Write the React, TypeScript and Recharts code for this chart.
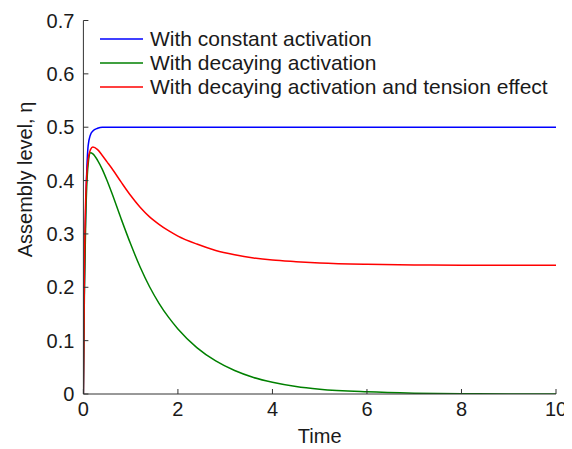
import React from 'react';
import { LineChart, Line, XAxis, YAxis, Legend, Label } from 'recharts';

// Sample times and the three simulated assembly curves
const time = [0, 0.02, 0.05, 0.1, 0.15, 0.2, 0.3, 0.4, 0.5, 0.6, 0.8, 1.0, 1.2, 1.4, 1.6, 1.8, 2.0, 2.4, 2.8, 3.2, 3.6, 4.0, 4.5, 5, 6, 7, 8, 9, 10];
const constantActivation = [0, 0.2, 0.35, 0.465, 0.486, 0.493, 0.498, 0.5, 0.5, 0.5, 0.5, 0.5, 0.5, 0.5, 0.5, 0.5, 0.5, 0.5, 0.5, 0.5, 0.5, 0.5, 0.5, 0.5, 0.5, 0.5, 0.5, 0.5, 0.5];
const decayingActivation = [0, 0.18, 0.33, 0.43, 0.452, 0.45, 0.438, 0.421, 0.4, 0.377, 0.328, 0.281, 0.238, 0.201, 0.17, 0.144, 0.122, 0.087, 0.062, 0.044, 0.031, 0.022, 0.014, 0.009, 0.004, 0.0015, 0.0005, 0, 0];
const decayingWithTension = [0, 0.22, 0.37, 0.44, 0.458, 0.463, 0.458, 0.447, 0.435, 0.423, 0.397, 0.372, 0.35, 0.332, 0.318, 0.306, 0.296, 0.281, 0.269, 0.261, 0.255, 0.251, 0.248, 0.2455, 0.243, 0.242, 0.2415, 0.2415, 0.2415];

const xTicks = [0, 2, 4, 6, 8, 10];
const yTicks = [0, 0.1, 0.2, 0.3, 0.4, 0.5, 0.6, 0.7];

const series = [
  { key: 'constant', name: 'With constant activation', color: '#0000ff' },
  { key: 'decaying', name: 'With decaying activation', color: '#008000' },
  { key: 'tension', name: 'With decaying activation and tension effect', color: '#ff0000' },
];

const data = time.map((t, i) => ({
  t,
  constant: constantActivation[i],
  decaying: decayingActivation[i],
  tension: decayingWithTension[i],
}));

const FONT = '"Liberation Sans", Arial, sans-serif';
const AXIS = '#333333';
const TEXT = '#1a1a1a';

// ticks point into the plot, like a MATLAB axis
const YTick = (props: any) => {
  const { x, y, payload } = props;
  const ax = x + 9;
  return (
    <g>
      <line x1={ax} x2={ax + 5} y1={y} y2={y} stroke={AXIS} strokeWidth={1} />
      <text x={x} y={y} dy="0.355em" textAnchor="end" fontSize={20} fontFamily={FONT} fill={TEXT}>
        {payload.value === 0 ? '0' : payload.value.toFixed(1)}
      </text>
    </g>
  );
};

const XTick = (props: any) => {
  const { x, y, payload } = props;
  const ay = y - 8;
  return (
    <g>
      <line x1={x} x2={x} y1={ay} y2={ay - 5} stroke={AXIS} strokeWidth={1} />
      <text x={x} y={y} dy="0.71em" textAnchor="middle" fontSize={20} fontFamily={FONT} fill={TEXT}>
        {payload.value}
      </text>
    </g>
  );
};

const LegendBox = () => (
  <div style={{ fontFamily: FONT, fontSize: 21, color: TEXT }}>
    {series.map(s => (
      <div key={s.key} style={{ display: 'flex', alignItems: 'center', height: 23.7, whiteSpace: 'nowrap' }}>
        <svg width={50} height={6} style={{ display: 'block' }}>
          <line x1={0} x2={43} y1={3} y2={3} stroke={s.color} strokeWidth={1.5} />
        </svg>
        <span>{s.name}</span>
      </div>
    ))}
  </div>
);

const App: React.FC = () => {
  return (
    <LineChart width={564} height={441} data={data} margin={{ top: 12.5, right: 16, bottom: 25, left: 0 }}>
      <XAxis
        type="number"
        dataKey="t"
        domain={[0, 10]}
        ticks={xTicks}
        height={30}
        stroke={AXIS}
        tickSize={0}
        tickMargin={8}
        tick={<XTick />}
        allowDataOverflow
      >
        <Label
          content={(p: any) => {
            const vb = p.viewBox;
            return (
              <text x={vb.x + vb.width / 2} y={435} textAnchor="middle" fontSize={20} fontFamily={FONT} fill={TEXT}>
                Time
              </text>
            );
          }}
        />
      </XAxis>
      <YAxis
        type="number"
        domain={[0, 0.7]}
        ticks={yTicks}
        width={75.4}
        stroke={AXIS}
        tickSize={0}
        tickMargin={9}
        tick={<YTick />}
        allowDataOverflow
      >
        <Label
          content={() => (
            <text
              x={16.8}
              y={171.5}
              dy="0.36em"
              transform="rotate(-90 16.8 171.5)"
              textAnchor="middle"
              fontSize={20}
              fontFamily={FONT}
              fill={TEXT}
            >
              Assembly level, η
            </text>
          )}
        />
      </YAxis>
      <Legend
        layout="vertical"
        align="center"
        verticalAlign="middle"
        content={<LegendBox />}
        wrapperStyle={{ left: 92, top: 19.5, width: 'auto' }}
      />
      {series.map(s => (
        <Line
          key={s.key}
          type="monotone"
          dataKey={s.key}
          name={s.name}
          stroke={s.color}
          strokeWidth={1.5}
          dot={false}
          activeDot={false}
          isAnimationActive={false}
        />
      ))}
    </LineChart>
  );
};

export default App;
